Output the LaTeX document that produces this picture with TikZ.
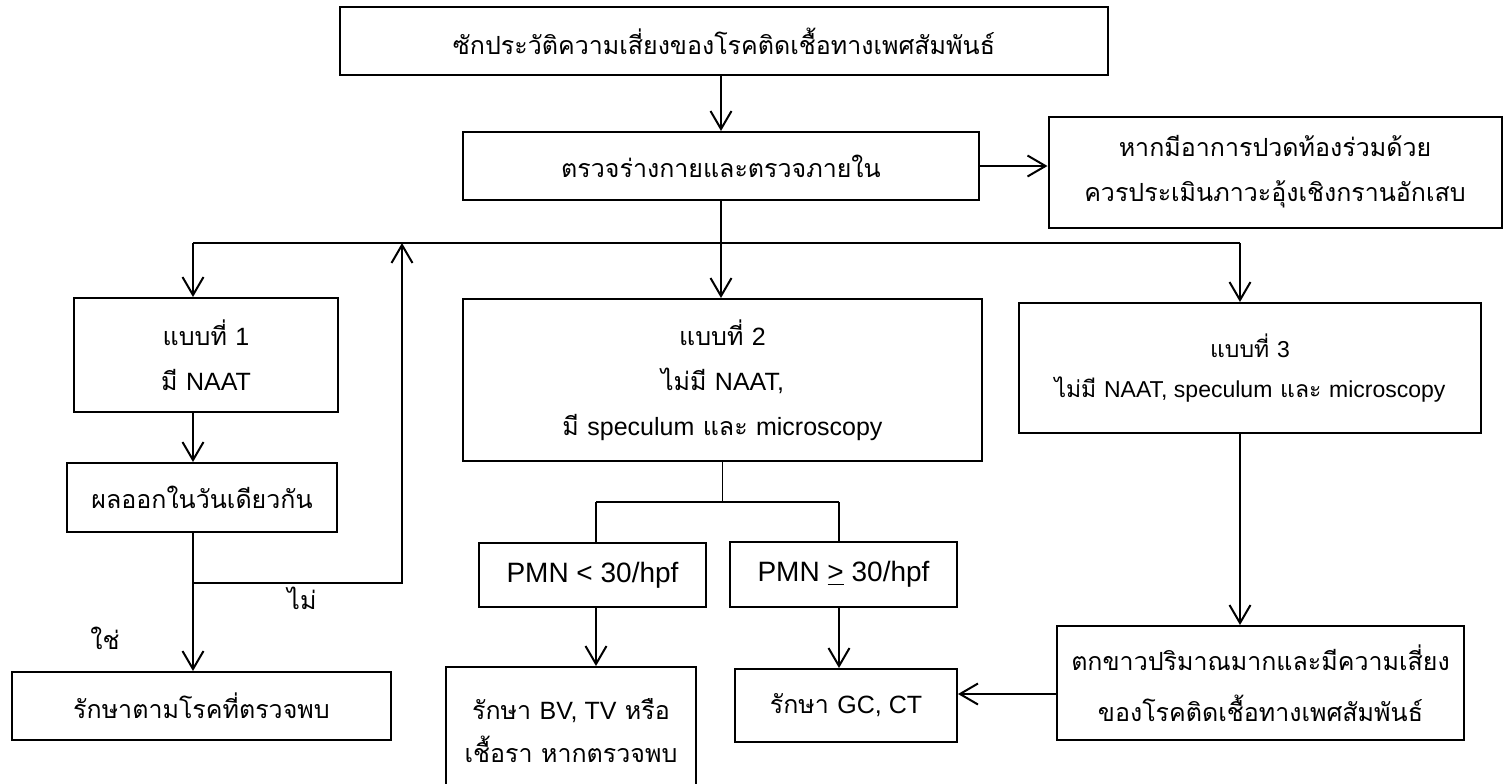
\documentclass[tikz,border=0pt]{standalone}
\usepackage{fontspec}
\setmainfont{Loma}[Script=Thai]
\newfontfamily\latfont{Liberation Sans}
\newcommand{\en}[1]{{\latfont #1}}
\usetikzlibrary{arrows.meta}

\begin{document}
\begin{tikzpicture}[
  x=0.5pt, y=-0.5pt,
  flow_box/.style={
    draw, line width=1pt, align=center, inner sep=0pt,
    font=\fontsize{12.5}{22.5}\selectfont
  },
  pmn_box/.style={
    flow_box, font=\latfont\fontsize{14}{22.5}\selectfont
  },
  flow_arrow/.style={
    line width=1pt, -{Straight Barb[length=9pt,width=10.5pt,line width=1pt]}
  },
  thin_line/.style={
    line width=0.6pt
  }]
  %
  \useasboundingbox (0,0) rectangle (1506,783);
  \node[flow_box, minimum width=384pt, minimum height=34pt] (history) at (724,41)
    {ซักประวัติความเสี่ยงของโรคติดเชื้อทางเพศสัมพันธ์};
  \node[flow_box, minimum width=258pt, minimum height=34pt] (exam) at (721,166)
    {ตรวจร่างกายและตรวจภายใน};
  \node[flow_box, minimum width=226.5pt, minimum height=55.5pt] (pid_note) at (1275,172)
    {หากมีอาการปวดท้องร่วมด้วย\\ควรประเมินภาวะอุ้งเชิงกรานอักเสบ};
  \node[flow_box, minimum width=132pt, minimum height=57pt] (opt1) at (206,355)
    {แบบที่ \en{1}\\มี \en{NAAT}};
  \node[flow_box, minimum width=135pt, minimum height=34.5pt] (opt1_result) at (202,497.5)
    {ผลออกในวันเดียวกัน};
  \node[flow_box, minimum width=189.5pt, minimum height=34pt] (opt1_treat) at (201.5,706)
    {รักษาตามโรคที่ตรวจพบ};
  \node[flow_box, minimum width=259.5pt, minimum height=81pt] (opt2) at (722.5,380)
    {แบบที่ \en{2}\\ไม่มี \en{NAAT,}\\มี \en{speculum} และ \en{microscopy}};
  \node[pmn_box, minimum width=113.5pt, minimum height=32pt] (pmn_low) at (592.5,575)
    {PMN < 30/hpf};
  \node[pmn_box, minimum width=113.5pt, minimum height=32.5pt] (pmn_high) at (843.5,574.5)
    {PMN \underline{>} 30/hpf};
  \node[flow_box, minimum width=125pt, minimum height=64pt] (treat_bv) at (571,731)
    {รักษา \en{BV, TV} หรือ\\[-1pt]เชื้อรา หากตรวจพบ};
  \node[flow_box, minimum width=111pt, minimum height=36.5pt] (treat_gc) at (846,705.5)
    {รักษา \en{GC, CT}};
  \node[flow_box, minimum width=231pt, minimum height=65pt,
        font=\fontsize{11.5}{20}\selectfont] (opt3) at (1250,368)
    {แบบที่ \en{3}\\ไม่มี \en{NAAT, speculum} และ \en{microscopy}};
  \node[flow_box, minimum width=203.5pt, minimum height=57pt] (discharge) at (1260.5,683)
    {ตกขาวปริมาณมากและมีความเสี่ยง\\[3pt]ของโรคติดเชื้อทางเพศสัมพันธ์};
  %
  \draw[flow_arrow, line width=0.6pt] (exam.north |- history.south) -- (exam.north);
  \draw[flow_arrow] (exam.east) -- (exam.east -| pid_note.west);
  \foreach \x/\n in {193/opt1,721/opt2,1240/opt3} {
    \coordinate (split_\n) at (\x,243);
    \draw[flow_arrow] (split_\n) -- (split_\n |- \n.north);
  }
  \draw[line width=1pt] (split_opt1) -- (split_opt3);
  \draw[thin_line] (exam.south) -- (split_opt2);
  % แบบที่ 1
  \draw[flow_arrow] (split_opt1 |- opt1.south) -- (split_opt1 |- opt1_result.north);
  \draw[flow_arrow] (split_opt1 |- opt1_result.south) -- (split_opt1 |- opt1_treat.north);
  \coordinate (no_turn) at (402,583);
  \draw[flow_arrow] (split_opt1 |- no_turn) -- (no_turn) -- (no_turn |- split_opt1);
  \node[font=\fontsize{12.5}{15}\selectfont] (no_label) at (302,598) {ไม่};
  \node[font=\fontsize{12.5}{15}\selectfont] (yes_label) at (105,638) {ใช่};
  % แบบที่ 2
  \coordinate (branch_low) at (596,502);
  \coordinate (branch_high) at (839,502);
  \draw[thin_line] (opt2.south) -- (opt2.south |- branch_low);
  \draw[thin_line] (branch_low) -- (branch_high);
  \draw[thin_line] (branch_low) -- (branch_low |- pmn_low.north);
  \draw[thin_line] (branch_high) -- (branch_high |- pmn_high.north);
  \draw[flow_arrow] (branch_low |- pmn_low.south) -- (branch_low |- treat_bv.north);
  \draw[flow_arrow] (branch_high |- pmn_high.south) -- (branch_high |- treat_gc.north);
  % แบบที่ 3
  \draw[flow_arrow] (split_opt3 |- opt3.south) -- (split_opt3 |- discharge.north);
  \draw[flow_arrow] ([yshift=-5.5pt]discharge.west) -- ([yshift=-5.5pt]discharge.west -| treat_gc.east);
\end{tikzpicture}
\end{document}
